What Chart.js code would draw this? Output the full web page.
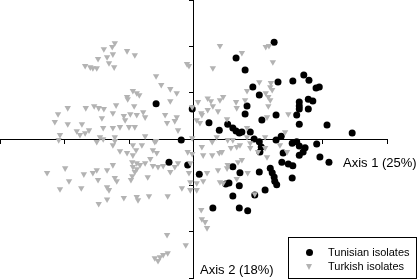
<!DOCTYPE html>
<html>
<head>
<meta charset="utf-8">
<script src="https://cdn.jsdelivr.net/npm/chart.js@4.4.1/dist/chart.umd.min.js"></script>
<style>
  html, body { margin: 0; padding: 0; background: #fff; }
  #wrap { position: relative; width: 418px; height: 280px; font-family: "Liberation Sans", Arial, sans-serif; color: #000; }
  #chart-pca { position: absolute; left: 0; top: 0; }
  .axis-title { position: absolute; font-size: 13px; line-height: 13px; white-space: nowrap; }
  #legend { position: absolute; left: 288px; top: 237px; width: 129px; height: 42px; box-sizing: border-box; border: 1px solid #000; background: #fff; }
  #legend .txt { position: absolute; left: 39px; font-size: 11px; line-height: 11px; white-space: nowrap; }
  #legend .dot { position: absolute; left: 17px; width: 7px; height: 7px; border-radius: 50%; background: #000; }
  #legend .tri { position: absolute; left: 17px; width: 0; height: 0; border-left: 3.5px solid transparent; border-right: 3.5px solid transparent; border-top: 6px solid #b3b3b3; }
</style>
</head>
<body>
<div id="wrap">
  <canvas id="chart-pca" width="418" height="280"></canvas>
  <div class="axis-title" id="title-x" style="left:343px; top:156px;"></div>
  <div class="axis-title" id="title-y" style="left:200px; top:263px;"></div>
  <div id="legend">
    <span class="dot" style="top:11px;"></span><span class="txt" id="leg-0" style="top:9px;"></span>
    <span class="tri" style="top:26px;"></span><span class="txt" id="leg-1" style="top:23px;"></span>
  </div>
</div>
<script>
/*
  ==================================================
  ====================== DATA ======================
  ==================================================
*/

const seriesNames = ['Tunisian isolates', 'Turkish isolates'];
const axisTitles = ['Axis 1 (25%)', 'Axis 2 (18%)'];
const axisMin = -3;
const axisMax = 3;

// scores on axis 1 / axis 2
const tunisian = [
  [1.25,2.09],[0.66,1.75],[0.80,1.49],[1.71,1.38],[1.79,1.27],[1.54,1.25],[1.31,1.23],[0.92,1.12],
  [1.90,1.10],[1.95,1.12],[1.02,0.95],[1.78,0.86],[1.85,0.82],[1.64,0.80],[1.64,0.71],[1.64,0.65],
  [1.78,0.65],[-0.58,0.76],[-0.02,0.65],[0.83,0.71],[0.80,0.54],[1.28,0.52],[1.60,0.52],[1.06,0.41],
  [1.64,0.32],[2.07,0.30],[0.24,0.35],[0.53,0.32],[0.40,0.19],[0.61,0.24],[0.66,0.17],[0.71,0.13],
  [0.75,0.15],[0.88,0.15],[2.46,0.13],[1.36,0.06],[-0.19,-0.02],[0.94,0.00],[1.02,-0.06],[1.05,-0.17],
  [1.03,-0.28],[1.28,-0.02],[1.53,-0.09],[1.60,-0.06],[1.64,-0.15],[1.73,-0.19],[1.70,-0.28],[1.91,-0.11],
  [1.39,-0.30],[1.64,-0.35],[1.96,-0.39],[2.10,-0.50],[1.37,-0.50],[1.47,-0.54],[1.54,-0.58],[1.53,-0.84],
  [-0.38,-0.50],[-0.09,-0.56],[0.09,-0.76],[0.61,-0.60],[0.72,-0.73],[1.02,-0.71],[1.19,-0.63],[1.22,-0.73],
  [1.25,-0.82],[1.26,-0.91],[1.29,-0.99],[0.50,-0.97],[0.55,-0.95],[0.71,-1.01],[1.11,-1.10],[0.61,-1.23],
  [0.95,-1.21],[0.30,-1.49],[0.71,-1.49],[0.84,-1.55]
];

const turkish = [
  [-1.22,2.07],[-1.26,1.99],[-1.39,1.94],[-1.03,1.90],[-0.91,1.81],[-1.25,1.83],[-1.34,1.77],[-1.48,1.73],
  [-1.31,1.64],[-1.68,1.58],[-1.60,1.55],[-1.56,1.53],[-1.50,1.53],[-1.23,1.55],
  [-0.10,1.62],[-0.07,1.58],[0.30,1.53],[0.41,2.01],[0.75,1.86],[1.12,1.99],[1.17,2.01],[1.23,1.66],
  [-0.58,1.36],[-0.50,1.17],[-0.36,1.08],[-0.26,0.99],[-0.94,1.04],[-0.88,0.99],[-0.84,0.95],[-1.03,0.91],
  [-1.02,0.86],[-0.36,0.82],[-0.92,0.71],[0.07,0.80],[0.22,0.88],[0.27,0.82],[0.46,0.91],[0.41,0.84],
  [0.66,0.80],[0.67,0.67],[0.80,0.84],[0.83,1.04],[1.02,1.23],[1.20,1.21],[1.19,1.12],[1.22,1.06],
  [1.12,0.99],[1.16,0.91],[1.19,0.84],[1.16,0.71],[0.30,0.71],[0.38,0.60],[0.12,0.56],[0.22,0.63],
  [-0.02,0.69],[-0.78,0.58],[-0.88,0.52],[-0.75,0.47],[-0.44,0.52],[-1.08,0.50],[-0.98,0.54],[-0.26,0.47],
  [-0.29,0.39],[0.05,0.41],[0.10,0.35],[0.13,0.52],[0.52,0.43],[1.14,0.47],[0.83,0.24],[-0.24,0.19],
  [1.11,0.04],[0.83,0.04],[-0.02,0.02],[1.47,0.54],[1.42,0.15],
  [-1.95,0.67],[-1.67,0.67],[-1.54,0.71],[-1.47,0.67],[-1.39,0.65],[-1.20,0.73],[-2.10,0.54],[-1.25,0.56],
  [-1.42,0.45],[-2.15,0.37],[-1.95,0.32],[-1.73,0.32],[-1.06,0.41],[-1.81,0.17],[-1.62,0.19],[-1.68,0.13],
  [-1.40,0.24],[-1.25,0.24],[-1.14,0.26],[-1.00,0.26],[-2.07,0.09],[-1.76,0.09],[-1.45,0.04],[-1.22,0.04],
  [-0.41,0.35],[-0.91,0.26],[-0.75,0.06],[-0.58,-0.04],
  [-2.09,-0.02],[-1.50,-0.06],[-1.40,0.00],[-1.22,-0.04],[-1.25,-0.13],[-1.14,-0.26],[-0.94,-0.13],[-0.80,-0.13],
  [-0.89,-0.24],[-1.03,-0.30],[-0.94,-0.35],[-0.63,-0.24],[-0.57,-0.30],[-0.67,-0.43],[-0.95,-0.50],[-0.88,-0.52],
  [-0.83,-0.56],[-0.75,-0.52],[-0.94,-0.60],[-0.88,-0.65],[-0.91,-0.71],[-0.95,-0.80],[-0.97,-0.88],[-0.63,-0.58],
  [-0.55,-0.60],[-1.99,-0.63],[-2.27,-0.73],[-1.93,-0.91],[-2.07,-1.08],[-1.74,-1.06],[-1.70,-0.76],[-1.56,-0.73],
  [-1.50,-0.67],[-1.48,-0.88],[-1.34,-0.67],[-1.25,-0.56],[-1.22,-0.84],[-1.19,-0.91],[-1.34,-1.04],[-1.31,-1.10],
  [-1.34,-1.30],[-1.47,-1.40],[-1.08,-1.27],[-0.88,-1.25],[-0.86,-1.32],[-0.71,-0.82],[-0.36,-0.71],[-0.29,-0.60],
  [-0.24,-0.52],[-0.47,-0.58],[-0.60,-0.06],[-0.40,-1.23],[-0.69,-1.23],
  [-0.09,-0.28],[-0.02,-0.32],[0.13,-0.17],[-0.05,-0.52],[-0.07,-0.73],[-0.05,-0.93],[0.05,-0.95],[0.15,-0.91],
  [-0.18,-1.06],[-0.05,-1.10],[0.05,-1.10],[0.12,-1.53],[0.13,-1.73],[0.18,-1.79],[0.21,-1.92],[-0.41,-2.07],
  [-0.12,-2.29],[-0.40,-2.46],[-0.47,-2.50],[-0.52,-2.55],[-0.60,-2.57],[-0.55,-2.63],
  [0.15,-0.35],[0.29,-0.35],[0.40,-0.30],[0.44,-0.28],[0.58,-0.19],[0.67,-0.17],[0.72,-0.13],[0.53,-0.56],
  [0.52,-0.63],[0.38,-0.67],[0.41,-0.93],[0.46,-0.95],[0.67,-0.86],[0.88,-0.19],[1.11,-0.19],[0.84,-0.73],
  [0.21,-0.73],[0.29,-0.06],[0.36,0.04],[0.53,-0.02],[0.61,-0.02],[0.88,-0.09],[1.00,-0.28],[1.14,-0.39],
  [1.34,-0.13],[1.45,-0.28],[0.69,-0.50],[0.75,-0.45],[0.95,-1.19]
];

/*
  ==================================================
  ====================== TEXT ======================
  ==================================================
*/

document.getElementById('title-x').textContent = axisTitles[0];
document.getElementById('title-y').textContent = axisTitles[1];
document.getElementById('leg-0').textContent = seriesNames[0];
document.getElementById('leg-1').textContent = seriesNames[1];

/*
  ==================================================
  ===================== CHART ======================
  ==================================================
*/

let toPoints = (arr) => arr.map(([x, y]) => ({ x, y }));

let axisOpts = (other) => ({
  type: 'linear',
  min: axisMin,
  max: axisMax,
  position: { [other]: 0 },
  ticks: { display: false, stepSize: 1 },
  grid: { drawOnChartArea: false, drawTicks: true, tickLength: 4, color: '#000', lineWidth: 1 },
  border: { display: true, color: '#000', width: 1 }
});

/** @type {CanvasRenderingContext2D} */
let ctx = document.getElementById('chart-pca').getContext('2d');

let chart = new Chart(ctx, {
  type: 'scatter',
  data: {
    datasets: [{
      label: seriesNames[0],
      data: toPoints(tunisian),
      order: 1,
      pointStyle: 'circle',
      pointRadius: 3.5,
      pointBorderWidth: 0,
      backgroundColor: '#000',
      borderColor: '#000'
    }, {
      label: seriesNames[1],
      data: toPoints(turkish),
      order: 0,
      pointStyle: 'triangle',
      pointRotation: 180,
      pointRadius: 3.7,
      pointBorderWidth: 0,
      backgroundColor: '#b3b3b3',
      borderColor: '#b3b3b3'
    }]
  },
  options: {
    responsive: false,
    devicePixelRatio: 1,
    animation: false,
    layout: { autoPadding: false, padding: { left: 0, top: 0, right: 31, bottom: 2 } },
    scales: {
      x: axisOpts('y'),
      y: axisOpts('x')
    },
    plugins: {
      legend: { display: false },
      tooltip: { enabled: false }
    }
  }
});
</script>
</body>
</html>
